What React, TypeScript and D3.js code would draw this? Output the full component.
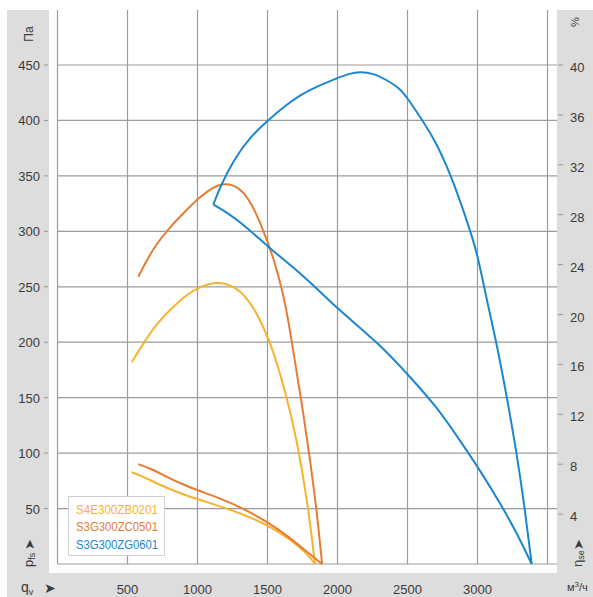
import React from "react";
import * as d3 from "d3";

// ---- data (q in м³/ч, pressure in Па, efficiency in %) ----
const qTicks = [500, 1000, 1500, 2000, 2500, 3000];
const qGrid = [0, 500, 1000, 1500, 2000, 2500, 3000, 3500];
const paTicks = [50, 100, 150, 200, 250, 300, 350, 400, 450];
const effTicks = [4, 8, 12, 16, 20, 24, 28, 32, 36, 40];

const seriesNames = ["S4E300ZB0201", "S3G300ZC0501", "S3G300ZG0601"];
const seriesColors = ["#f7b22e", "#e67c33", "#1b87d1"];

const s4ePressure: [number, number][] = [
  [530, 182], [613, 199], [709, 217], [827, 232], [923, 243], [1018, 250],
  [1113, 254], [1209, 253], [1304, 247], [1399, 232], [1470, 214], [1541, 193],
  [1637, 151], [1709, 112], [1780, 61], [1840, 0],
];
const s4eEfficiency: [number, number][] = [
  [530, 7.35], [613, 7.0], [732, 6.33], [875, 5.67], [1018, 5.13], [1209, 4.46],
  [1399, 3.66], [1541, 2.86], [1684, 1.79], [1780, 0.86], [1840, 0],
];
const zc0501Pressure: [number, number][] = [
  [577, 259], [637, 274], [709, 289], [804, 304], [923, 319.5], [1018, 331],
  [1101, 339], [1173, 343], [1256, 342], [1327, 336], [1399, 322], [1470, 301],
  [1541, 277], [1613, 244], [1661, 211], [1709, 172], [1756, 136], [1804, 94],
  [1851, 49], [1890, 0],
];
const zc0501Efficiency: [number, number][] = [
  [577, 8.0], [661, 7.67], [756, 7.13], [875, 6.47], [994, 5.93], [1161, 5.27],
  [1327, 4.46], [1494, 3.39], [1637, 2.32], [1780, 0.99], [1890, 0],
];
const zg0601Pressure: [number, number][] = [
  [1113, 324], [1161, 340], [1256, 364], [1375, 385], [1494, 399], [1613, 412],
  [1732, 423], [1851, 430.5], [1994, 438], [2089, 442.5], [2161, 444], [2256, 442.5],
  [2351, 436.5], [2446, 429], [2506, 419], [2613, 399], [2709, 379], [2804, 352],
  [2875, 328], [2946, 301], [2999, 280], [3066, 238], [3137, 199], [3209, 151],
  [3280, 100], [3339, 49], [3387, 0],
];
const zg0601Efficiency: [number, number][] = [
  [1113, 28.8], [1209, 28.2], [1351, 27.0], [1506, 25.4], [1684, 23.8], [1851, 22.1],
  [2006, 20.4], [2304, 17.6], [2518, 15.0], [2709, 12.6], [2875, 9.9], [3018, 7.5],
  [3161, 4.9], [3280, 2.5], [3387, 0],
];

const W = 593;
const H = 597;
const FONT = "'Liberation Sans', Arial, sans-serif";

export default function App() {
  const x = d3.scaleLinear().domain([0, 3500]).range([57.5, 547.5]);
  const yP = d3.scaleLinear().domain([0, 450]).range([564, 65]);
  const yE = d3.scaleLinear().domain([0, 40]).range([564, 65]);

  const lineP = d3
    .line<[number, number]>()
    .x((d) => x(d[0]))
    .y((d) => yP(d[1]))
    .curve(d3.curveBasis);
  const lineE = d3
    .line<[number, number]>()
    .x((d) => x(d[0]))
    .y((d) => yE(d[1]))
    .curve(d3.curveBasis);

  const pressures = [s4ePressure, zc0501Pressure, zg0601Pressure];
  const effs = [s4eEfficiency, zc0501Efficiency, zg0601Efficiency];
  const gridColor = "#9c9c9c";
  const textColor = "#3a3a3a";
  const topY = 10;
  const bottomY = yP(0);

  return (
    <svg
      width={W}
      height={H}
      style={{ position: "absolute", left: 0, top: 0, background: "#fff" }}
    >
      {/* frame */}
      <rect x={7} y={10} width={W - 7} height={H - 10} fill="#dddddd" />
      <rect x={49} y={10} width={508} height={563} fill="#ffffff" />

      {/* vertical grid */}
      {qGrid.map((q) => (
        <line key={"vg" + q} x1={x(q)} x2={x(q)} y1={topY} y2={bottomY} stroke={gridColor} strokeWidth={1.2} />
      ))}
      {/* horizontal grid */}
      {[0, ...paTicks].map((p) => (
        <line key={"hg" + p} x1={x(0)} x2={557} y1={yP(p)} y2={yP(p)} stroke={gridColor} strokeWidth={1.2} />
      ))}

      {/* left ticks */}
      {paTicks.map((p) => (
        <g key={"lt" + p}>
          <line x1={44} x2={48} y1={yP(p)} y2={yP(p)} stroke="#999" strokeWidth={1} />
          <text x={40} y={yP(p) + 5} textAnchor="end" fontFamily={FONT} fontSize={13} fill={textColor}>
            {p}
          </text>
        </g>
      ))}
      {/* right ticks */}
      {effTicks.map((e) => (
        <g key={"rt" + e}>
          <line x1={558} x2={563} y1={yE(e)} y2={yE(e)} stroke="#999" strokeWidth={1} />
          <text x={570} y={yE(e) + 7} textAnchor="start" fontFamily={FONT} fontSize={13} fill={textColor}>
            {e}
          </text>
        </g>
      ))}
      {/* bottom ticks */}
      {qTicks.map((q) => (
        <text key={"bt" + q} x={x(q)} y={594} textAnchor="middle" fontFamily={FONT} fontSize={13} fill={textColor}>
          {q}
        </text>
      ))}

      {/* axis titles */}
      <text transform="translate(33,34) rotate(-90)" textAnchor="middle" fontFamily={FONT} fontSize={12} fill={textColor}>
        Па
      </text>
      <text transform="translate(579,22) rotate(-90)" textAnchor="middle" fontFamily={FONT} fontSize={11} fill={textColor}>
        %
      </text>
      <text x={21} y={592} fontFamily={FONT} fontSize={14} fill={textColor}>
        q<tspan fontSize={9} dy={3}>v</tspan>
      </text>
      <text x={44} y={593} fontFamily="'DejaVu Sans', sans-serif" fontSize={14} fill={textColor}>
        ➤
      </text>
      <text x={567} y={591} fontFamily={FONT} fontSize={11} fill={textColor}>
        м<tspan fontSize={8} dy={-4}>3</tspan>
        <tspan dy={4}>/ч</tspan>
      </text>
      <g transform="translate(33,567) rotate(-90)">
        <text x={0} y={0} fontFamily={FONT} fontSize={13} fill={textColor}>
          p<tspan fontSize={9} dy={2}>fs</tspan>
        </text>
        <text x={17} y={1} fontFamily="'DejaVu Sans', sans-serif" fontSize={13} fill={textColor}>
          ➤
        </text>
      </g>
      <g transform="translate(582,567) rotate(-90)">
        <text x={0} y={0} fontFamily={FONT} fontSize={13} fill={textColor}>
          η<tspan fontSize={9} dy={2}>se</tspan>
        </text>
        <text x={17} y={1} fontFamily="'DejaVu Sans', sans-serif" fontSize={13} fill={textColor}>
          ➤
        </text>
      </g>

      {/* curves */}
      {pressures.map((d, i) => (
        <path key={"p" + i} d={lineP(d) || ""} fill="none" stroke={seriesColors[i]} strokeWidth={2} strokeLinejoin="round" />
      ))}
      {effs.map((d, i) => (
        <path key={"e" + i} d={lineE(d) || ""} fill="none" stroke={seriesColors[i]} strokeWidth={2} strokeLinejoin="round" />
      ))}

      {/* legend */}
      <rect x={68.5} y={496.5} width={96} height={59} fill="#fff" stroke="#cfcfcf" strokeWidth={1} />
      {seriesNames.map((n, i) => (
        <text
          key={n}
          x={76}
          y={513.5 + i * 17.5}
          fontFamily={FONT}
          fontSize={13.5}
          textLength={82}
          lengthAdjust="spacingAndGlyphs"
          fill={seriesColors[i]}
        >
          {n}
        </text>
      ))}
    </svg>
  );
}
